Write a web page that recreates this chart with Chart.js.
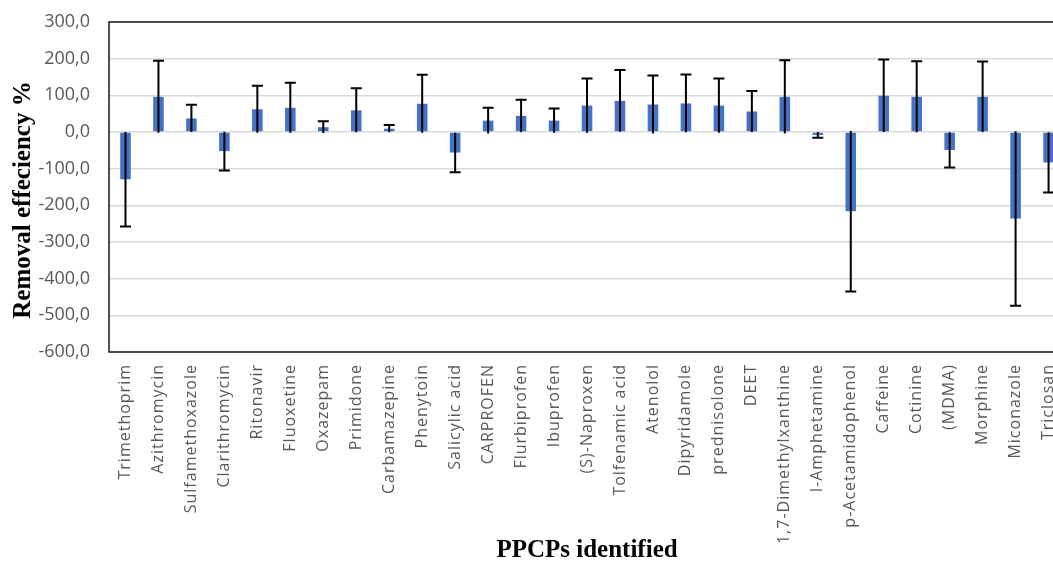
<!DOCTYPE html>
<html>
<head>
<meta charset="utf-8">
<script src="https://cdn.jsdelivr.net/npm/chart.js@4.4.1/dist/chart.umd.min.js"></script>
<style>
    html, body { margin: 0; padding: 0; background: #fff; overflow: hidden; }
    #wrap { position: relative; width: 1080px; height: 563px; }
</style>
</head>
<body>
<div id="wrap"><canvas id="chart"></canvas></div>
<script>
// PPCPs (x categories)
const compounds = [
    'Trimethoprim', 'Azithromycin', 'Sulfamethoxazole', 'Clarithromycin', 'Ritonavir',
    'Fluoxetine', 'Oxazepam', 'Primidone', 'Carbamazepine', 'Phenytoin',
    'Salicylic acid', 'CARPROFEN', 'Flurbiprofen', 'Ibuprofen', '(S)-Naproxen',
    'Tolfenamic acid', 'Atenolol', 'Dipyridamole', 'prednisolone', 'DEET',
    '1,7-Dimethylxanthine', 'l-Amphetamine', 'p-Acetamidophenol', 'Caffeine', 'Cotinine',
    '(MDMA)', 'Morphine', 'Miconazole', 'Triclosan'
];

// mean removal efficiency (%)
const removal = [
    -129, 96, 37, -52, 62,
    66, 13, 59, 9, 77,
    -56, 31, 44, 31, 72,
    85, 75, 78, 72, 56,
    96, -8, -216, 99, 96,
    -49, 96, -236, -83
];

// error bar half-length (%)
const errors = [
    129, 98, 37, 53, 64,
    68, 16, 60, 10, 79,
    54, 35, 44, 33, 74,
    84, 79, 79, 74, 56,
    100, 8, 219, 99, 97,
    48, 96, 238, 82
];

// y axis tick values
const yTicks = [-600, -500, -400, -300, -200, -100, 0, 100, 200, 300];

const tickFont = "'Open Sans', 'Liberation Sans', sans-serif";
const titleFont = "'Liberation Serif', 'DejaVu Serif', serif";

// error bars: line through the bar, cap on the outer end
const errorBars = {
    id: 'errorBars',
    afterDatasetsDraw(chart) {
        const ctx = chart.ctx;
        const yScale = chart.scales.y;
        const meta = chart.getDatasetMeta(0);
        ctx.save();
        ctx.strokeStyle = '#000';
        ctx.lineWidth = 2;
        meta.data.forEach((bar, i) => {
            const v = removal[i];
            const e = errors[i];
            const dir = v < 0 ? -1 : 1;
            const yOut = yScale.getPixelForValue(v + dir * e);
            const yIn = yScale.getPixelForValue(v - dir * e);
            ctx.beginPath();
            ctx.moveTo(bar.x, yIn);
            ctx.lineTo(bar.x, yOut);
            ctx.moveTo(bar.x - 5.5, yOut);
            ctx.lineTo(bar.x + 5.5, yOut);
            ctx.stroke();
        });
        ctx.restore();
    }
};

// the category labels are a little spaced out in the original
const spacedLabels = {
    id: 'spacedLabels',
    beforeDraw(chart) {
        const xs = chart.scales.x;
        if (xs._spaced) return;
        const orig = xs.drawLabels;
        xs.drawLabels = function (area) {
            const ctx = this.ctx;
            ctx.save();
            ctx.letterSpacing = '1px';
            orig.call(this, area);
            ctx.restore();
        };
        xs._spaced = true;
    }
};

// plot frame + vertical y title
const frame = {
    id: 'frame',
    afterDraw(chart) {
        const { ctx, chartArea } = chart;
        ctx.save();
        ctx.strokeStyle = '#1a1a1a';
        ctx.lineWidth = 1.5;
        ctx.strokeRect(chartArea.left, chartArea.top, chartArea.right - chartArea.left, chartArea.bottom - chartArea.top);

        ctx.translate(24, 200);
        ctx.rotate(-Math.PI / 2);
        ctx.fillStyle = '#000';
        ctx.font = `bold 25px ${titleFont}`;
        ctx.textAlign = 'center';
        ctx.textBaseline = 'middle';
        ctx.fillText('Removal effeciency %', 0, 0);
        ctx.restore();
    }
};

new Chart(document.getElementById('chart'), {
    type: 'bar',
    data: {
        labels: compounds,
        datasets: [{
            data: removal,
            backgroundColor: '#4472C4',
            borderWidth: 0,
            categoryPercentage: 1,
            barPercentage: 0.32
        }]
    },
    options: {
        responsive: true,
        maintainAspectRatio: false,
        animation: false,
        layout: { padding: { top: 22, right: 14, bottom: 0, left: 0 } },
        plugins: {
            legend: { display: false },
            tooltip: { enabled: false }
        },
        scales: {
            x: {
                grid: { display: false, drawTicks: false },
                border: { display: false },
                ticks: {
                    minRotation: 90,
                    maxRotation: 90,
                    autoSkip: false,
                    padding: 12,
                    color: '#595959',
                    font: { size: 16, family: tickFont }
                },
                title: {
                    display: true,
                    text: 'PPCPs identified',
                    color: '#000',
                    font: { size: 25, weight: 'bold', family: titleFont, lineHeight: 1 },
                    padding: { top: 0, bottom: 0 }
                },
                afterFit(axis) { axis.height = 211; }
            },
            y: {
                min: -600,
                max: 300,
                afterBuildTicks(axis) {
                    axis.ticks = yTicks.map(v => ({ value: v }));
                },
                grid: { color: '#d9d9d9', lineWidth: 1.5, drawTicks: false },
                border: { display: false },
                ticks: {
                    padding: 19,
                    color: '#595959',
                    font: { size: 18, family: tickFont },
                    callback: v => v.toFixed(1).replace('.', ',')
                },
                afterFit(axis) {
                    axis.width = 109;
                    axis.paddingTop = 10;
                    axis.paddingBottom = 10;
                }
            }
        }
    },
    plugins: [spacedLabels, errorBars, frame]
});
</script>
</body>
</html>
